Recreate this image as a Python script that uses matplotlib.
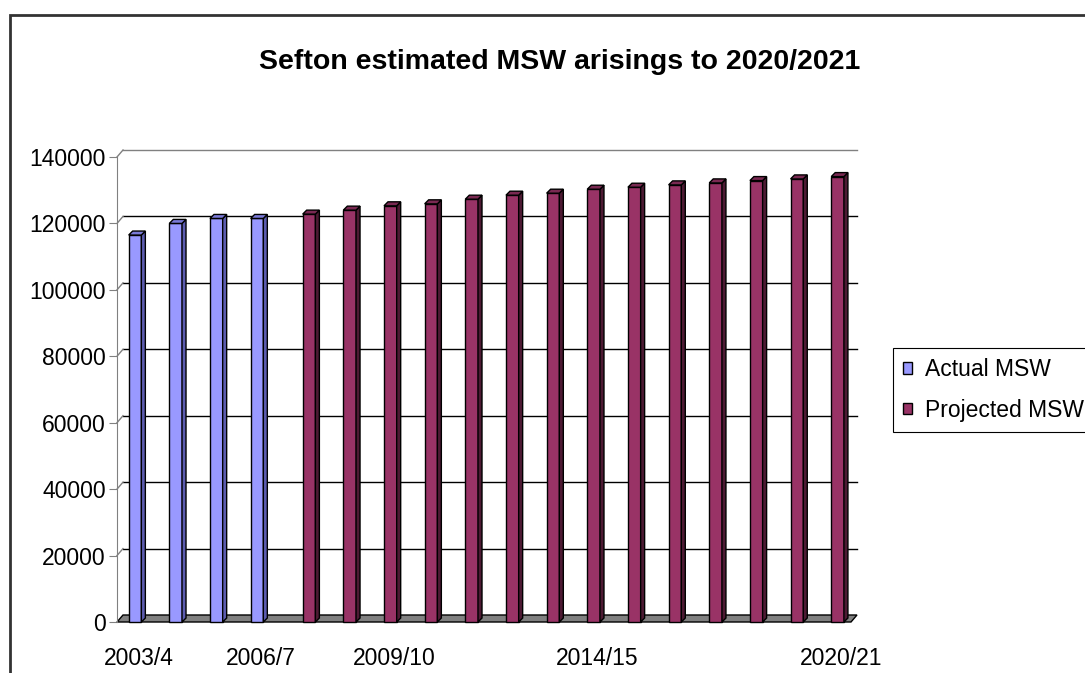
import matplotlib
matplotlib.use("Agg")
import matplotlib.pyplot as plt
from matplotlib.patches import Polygon, Patch, Rectangle

plt.rcParams['font.family'] = ['Liberation Sans', 'DejaVu Sans']

# datos
categorias = ["2003/4", "2004/5", "2005/6", "2006/7", "2007/8", "2008/9", "2009/10",
              "2010/11", "2011/12", "2012/13", "2013/14", "2014/15", "2015/16",
              "2016/17", "2017/18", "2018/19", "2019/20", "2020/21"]
etiquetasVisibles = ["2003/4", "2006/7", "2009/10", "2014/15", "2020/21"]
actual = [116500, 120000, 121500, 121500]
proyectado = [122800, 124000, 125300, 125900, 127300, 128500, 129100,
              130300, 130900, 131600, 132200, 132900, 133400, 134100]
yTicks = [0, 20000, 40000, 60000, 80000, 100000, 120000, 140000]

W, H = 1085, 673
fig = plt.figure(figsize=(W / 100, H / 100), dpi=100)
ax = fig.add_axes([117 / W, 1 - 622 / H, (851 - 117) / W, (622 - 157) / H])
xlim = (-0.583, 17.47)
ylim = (0, 140000)
ax.set_xlim(xlim)
ax.set_ylim(ylim)

#pixeles por unidad para el efecto 3d
ppx = (851 - 117) / (xlim[1] - xlim[0])
ppy = (622 - 157) / (ylim[1] - ylim[0])
wx, wy = 6 / ppx, 7 / ppy      # profundidad de la pared
bx, by = 4 / ppx, 4 / ppy      # profundidad de las barras

for s in ["top", "right", "bottom"]:
    ax.spines[s].set_visible(False)
ax.spines["left"].set_color("#808080")

# lineas de la pared del fondo
for v in yTicks:
    if v == 0:
        continue
    col = "#808080" if v == yTicks[-1] else "black"
    ax.plot([xlim[0] + wx, xlim[1] + wx], [v + wy, v + wy], color=col, lw=1, clip_on=False, zorder=1)
    ax.plot([xlim[0], xlim[0] + wx], [v, v + wy], color="#808080", lw=1, clip_on=False, zorder=1)

# suelo
suelo = Polygon([(xlim[0], 0), (xlim[1], 0), (xlim[1] + wx, wy), (xlim[0] + wx, wy)],
                closed=True, facecolor="#808080", edgecolor="black", lw=1, clip_on=False, zorder=2)
ax.add_patch(suelo)

ancho = 0.312
desp = 0.14

def barras3d(xs, vals, frente, lado, arriba):
    ax.bar(xs, vals, width=ancho, color=frente, edgecolor="black", lw=1, zorder=3, clip_on=False)
    for x, v in zip(xs, vals):
        x0 = x - ancho / 2
        x1 = x + ancho / 2
        ax.add_patch(Polygon([(x1, 0), (x1 + bx, by), (x1 + bx, v + by), (x1, v)], closed=True,
                             facecolor=lado, edgecolor="black", lw=1, zorder=3, clip_on=False))
        ax.add_patch(Polygon([(x0, v), (x1, v), (x1 + bx, v + by), (x0 + bx, v + by)], closed=True,
                             facecolor=arriba, edgecolor="black", lw=1, zorder=3, clip_on=False))

xsActual = [i - desp for i in range(len(actual))]
xsProy = [i + desp for i in range(len(actual), len(categorias))]
barras3d(xsActual, actual, "#9999FF", "#5C5CB0", "#7A7AD8")
barras3d(xsProy, proyectado, "#993366", "#4D1A33", "#7A2952")

ax.set_yticks(yTicks)
ax.set_yticklabels([str(v) for v in yTicks], fontsize=16.5)
ax.tick_params(axis="y", length=6, color="#808080", pad=2)

# etiquetas debajo de cada barra (con la profundidad)
posBarras = xsActual + xsProy
ax.set_xticks([p + bx for p in posBarras])
ax.set_xticklabels([c if c in etiquetasVisibles else "" for c in categorias], fontsize=16.5)
ax.tick_params(axis="x", length=0, pad=18)

fig.text(560 / W, 1 - 62 / H, "Sefton estimated MSW arisings to 2020/2021",
         ha="center", va="center", fontsize=20.5, fontweight="bold")

manejadores = [Patch(facecolor="#9999FF", edgecolor="black"), Patch(facecolor="#993366", edgecolor="black")]
leg = fig.legend(manejadores, ["Actual MSW", "Projected MSW"], loc="upper left",
                 bbox_to_anchor=(893 / W, 1 - 348 / H), fontsize=16.5, frameon=True, fancybox=False,
                 edgecolor="black", framealpha=1, handlelength=0.38, handleheight=0.38,
                 handletextpad=0.55, labelspacing=0.75, borderpad=0.45, borderaxespad=0)
leg.get_frame().set_linewidth(0.8)

# marco del grafico
fig.add_artist(Rectangle((10 / W, -0.1), 1.2, 1.1 - 15 / H, transform=fig.transFigure,
                         fill=False, edgecolor="#333333", lw=2))

fig.savefig("out.png", dpi=100)
